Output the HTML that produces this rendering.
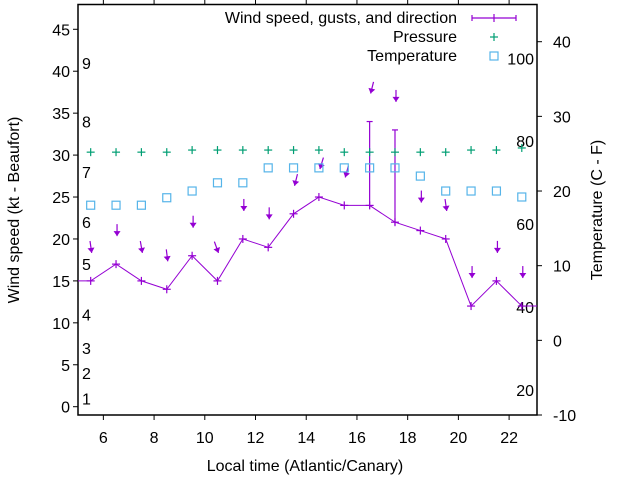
<!DOCTYPE html>
<html><head><meta charset="utf-8"><style>
body{margin:0;background:#fff}
svg{display:block;font-family:"Liberation Sans",sans-serif}
</style></head><body>
<svg id="c" width="640" height="480" viewBox="0 0 640 480"></svg>
<script>
const hours=[5.5,6.5,7.5,8.5,9.5,10.5,11.5,12.5,13.5,14.5,15.5,16.5,17.5,18.5,19.5,20.5,21.5,22.5];
const wind=[15,17,15,14,18,15,20,19,23,25,24,24,22,21,20,12,15,12];
const gusts=[null,null,null,null,null,null,null,null,null,null,null,34,33,null,null,null,null,null];
const dirTilt=[8,0,10,7,0,20,0,0,-14,-17,-15,-14,0,0,8,0,0,0];
const pressure=[30.35,30.35,30.35,30.35,30.6,30.6,30.6,30.6,30.6,30.6,30.35,30.35,30.35,30.35,30.35,30.6,30.6,30.85];
const tempC=[18.1,18.1,18.1,19.1,20,21.1,21.1,23.1,23.1,23.1,23.1,23.1,23.1,22,20,20,20,19.2];
const xTicks=[6,8,10,12,14,16,18,20,22];
const yTicks=[0,5,10,15,20,25,30,35,40,45];
const y2Ticks=[-10,0,10,20,30,40];
const beaufort=[1,4,7,11,17,22,28,34,41];
const fahr=[20,40,60,80,100];

const L=78,R=537,T=4.5,B=415;
const X=t=>L+(t-5)*(R-L)/18.1;
const Y=v=>406.7-v*8.387;
const Y2=c=>B-(c+10)*7.466;
const PUR="#9400d3",GRN="#009e73",BLU="#56b4e9";
const FS=16;
const svg=document.getElementById('c');
const NS="http://www.w3.org/2000/svg";
function mk(tag,attrs,parent){const e=document.createElementNS(NS,tag);for(const k in attrs)e.setAttribute(k,attrs[k]);(parent||svg).appendChild(e);return e;}
function txt(s,x,y,anchor,extra){const e=mk('text',Object.assign({x:x,y:y,'text-anchor':anchor,'font-size':FS,fill:'#000'},extra||{}));e.textContent=s;return e;}

let fr=mk('rect',{x:L,y:T,width:R-L,height:B-T,fill:'none',stroke:'#000','stroke-width':1.5});



xTicks.forEach(t=>{
  const x=X(t);
  let a=mk('line',{x1:x,x2:x,y1:B,y2:B+5,stroke:'#000'});
  
  
  mk('line',{x1:x,x2:x,y1:T,y2:T-5,stroke:'#000'});
  let l=txt(String(t),x,443,'middle');
  
  
});
yTicks.forEach(v=>{
  const y=Y(v);
  let a=mk('line',{x1:L-5,x2:L,y1:y,y2:y,stroke:'#000'});
  
  
  let l=txt(String(v),70,y+6,'end');
  
  
});
y2Ticks.forEach(c=>{
  const y=Y2(c);
  let a=mk('line',{x1:R,x2:R+5,y1:y,y2:y,stroke:'#000'});
  
  
  let l=txt(String(c),553,y+6,'start');
  
  
});
beaufort.forEach((k,i)=>{
  let l=txt(String(i+1),82,Y(k)+6,'start');
  
  
});
fahr.forEach(f=>{
  let l=txt(String(f),534,Y2((f-32)*5/9)+6,'end');
  
  
});

let xt=txt('Local time (Atlantic/Canary)',305,471,'middle');


let yt=txt('Wind speed (kt - Beaufort)',0,0,'middle',{transform:'translate(19,210) rotate(-90)'});


let y2t=txt('Temperature (C - F)',0,0,'middle',{transform:'translate(602,210) rotate(-90)'});



function plus(x,y,col,s,name){
  const g=mk('g',{stroke:col,'stroke-width':1.2});
  
  
  mk('line',{x1:x-s,x2:x+s,y1:y,y2:y},g);mk('line',{x1:x,x2:x,y1:y-s,y2:y+s},g);
  return g;
}
function square(x,y,name){
  const r=mk('rect',{x:x-4,y:y-4,width:8,height:8,fill:'none',stroke:BLU,'stroke-width':1.2});
  
  
}

let pts=[[L,Y(wind[0])]];
hours.forEach((h,i)=>pts.push([X(h),Y(wind[i])]));
pts.push([R,Y(wind[wind.length-1])]);
let wl=mk('polyline',{points:pts.map(p=>p.join(',')).join(' '),fill:'none',stroke:PUR,'stroke-width':1});


hours.forEach((h,i)=>{
  plus(X(h),Y(wind[i]),PUR,4,'wind-point');
  let top=wind[i];
  if(gusts[i]!=null){
    top=gusts[i];
    const g=mk('g',{stroke:PUR,'stroke-width':1.2});
    
    
    mk('line',{x1:X(h),x2:X(h),y1:Y(wind[i])+3,y2:Y(gusts[i])},g);
    mk('line',{x1:X(h)-3,x2:X(h)+3,y1:Y(gusts[i]),y2:Y(gusts[i])},g);
  }
  const tx=X(h)+1,ty=Y(top)-28,len=12,a=dirTilt[i]*Math.PI/180;
  const sx=tx-len*Math.sin(a),sy=ty-len*Math.cos(a);
  const ux=Math.sin(a),uy=Math.cos(a);
  const g=mk('g',{});
  
  
  mk('line',{x1:sx,y1:sy,x2:tx,y2:ty,stroke:PUR,'stroke-width':1.2},g);
  const bx=tx-5*ux,by=ty-5*uy;
  mk('polygon',{points:`${tx},${ty} ${bx-3.5*uy},${by+3.5*ux} ${bx+3.5*uy},${by-3.5*ux}`,fill:PUR},g);
  plus(X(h),Y(pressure[i]),GRN,4,'pressure-point');
  square(X(h),Y2(tempC[i]),'temperature-point');
});

let lg=mk('g',{});


txt('Wind speed, gusts, and direction',457,23,'end');
txt('Pressure',457,42,'end');
txt('Temperature',457,61,'end');
let ll=mk('g',{stroke:PUR,'stroke-width':1.2});


mk('line',{x1:472,x2:516,y1:18,y2:18},ll);
mk('line',{x1:472,x2:472,y1:15,y2:21},ll);
mk('line',{x1:516,x2:516,y1:15,y2:21},ll);
mk('line',{x1:494,x2:494,y1:14,y2:22},ll);
plus(494,37,GRN,4,'legend-pressure-symbol');
square(494,56,'legend-temperature-symbol');
</script>
</body></html>
